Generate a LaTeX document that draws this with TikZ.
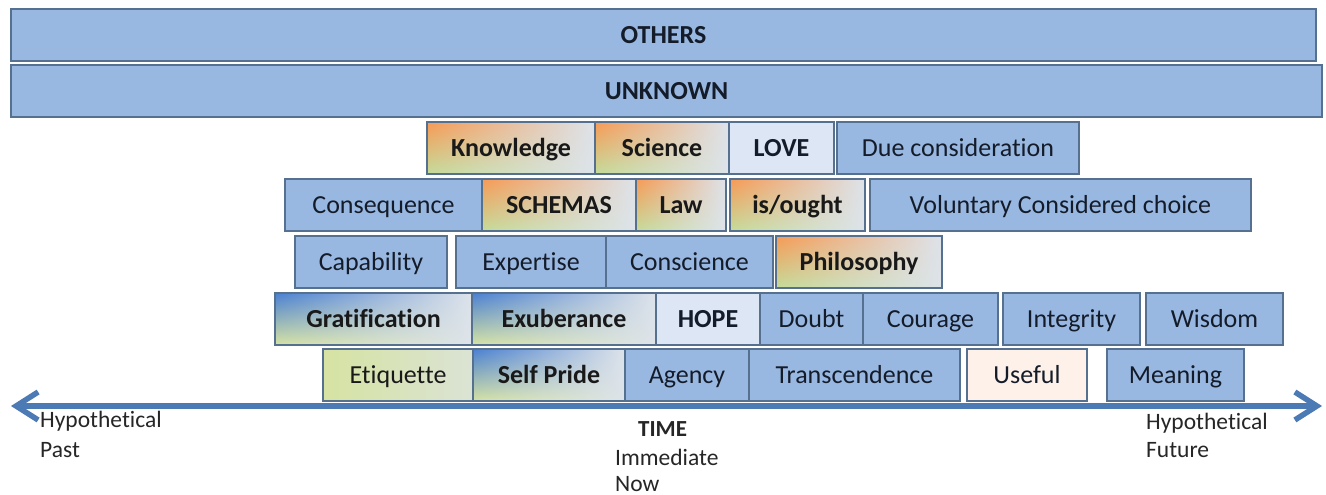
\documentclass[tikz,border=0pt]{standalone}
\usepackage{fontspec}
\setmainfont[Ligatures=NoCommon]{Carlito}
\usetikzlibrary{arrows.meta,shadings}
\definecolor{bluefill}{HTML}{99B8E1}
\definecolor{bordercol}{HTML}{56708F}
\definecolor{textcol}{HTML}{141C2A}
\definecolor{palefill}{HTML}{DCE6F4}
\definecolor{usefulfill}{HTML}{FDF1E9}
\definecolor{orng}{HTML}{F79A55}
\definecolor{grn}{HTML}{C4DC9A}
\definecolor{lgray}{HTML}{DDE3EA}
\definecolor{dblue}{HTML}{4A80D2}
\definecolor{ygrn}{HTML}{D6E3A2}
\definecolor{axiscol}{HTML}{4C7AB4}
\definecolor{lblcol}{HTML}{262626}
\newcommand\mybx[7]{%
  \pgfmathsetmacro\mybxw{#4-#2}\pgfmathsetmacro\mybxh{#5-#3}%
  \node[#6, minimum width=\mybxw pt, minimum height=\mybxh pt] (#1) at ({(#2+#4)/2},{(#3+#5)/2}) {#7};}
\tikzset{
  box/.style={draw=bordercol, line width=1.3pt, text=textcol, inner sep=0pt,
    font=\fontsize{26}{30}\selectfont, text height=17pt, text depth=0pt},
  boxb/.style={box, font=\fontsize{26}{30}\selectfont\bfseries},
  plain/.style={box, fill=bluefill},
  plainb/.style={boxb, fill=bluefill},
  pale/.style={boxb, fill=palefill},
  usefulbox/.style={box, fill=usefulfill},
  orangegrad/.style={boxb, text=black!90, shade, upper left=orng, lower left=grn, upper right=lgray, lower right=lgray},
  bluegrad/.style={boxb, text=black!90, shade, upper left=dblue, lower left=ygrn, upper right=lgray, lower right=lgray},
  etiq/.style={box, text=black!90, shade, upper left=ygrn, lower left=ygrn, upper right=lgray!70!ygrn, lower right=lgray!70!ygrn},
  lbl/.style={text=lblcol, inner sep=0pt, anchor=base west, font=\fontsize{23.5}{28}\selectfont},
  lblb/.style={lbl, font=\fontsize{23}{28}\selectfont\bfseries},
  axis/.style={draw=axiscol, line width=5.5pt},
}
\begin{document}
\begin{tikzpicture}[x=1pt,y=-1pt]
\useasboundingbox (0,0) rectangle (1326,495);
\fill[white] (0,0) rectangle (1326,495);
% top bars
\mybx{others}{11}{9}{1316}{61}{plainb}{OTHERS}
\mybx{unknown}{11}{65}{1322}{117}{plainb}{UNKNOWN}
% row 1
\mybx{knowledge}{427}{122}{595}{174}{orangegrad}{Knowledge}
\mybx{science}{595}{122}{729}{174}{orangegrad}{Science}
\mybx{love}{729}{122}{834}{174}{pale}{LOVE}
\mybx{due}{837}{122}{1079}{174}{plain}{Due consideration}
% row 2
\mybx{consequence}{285}{179}{482}{231}{plain}{Consequence}
\mybx{schemas}{482}{179}{636}{231}{orangegrad}{SCHEMAS}
\mybx{law}{636}{179}{726}{231}{orangegrad}{Law}
\mybx{isought}{730}{179}{865}{231}{orangegrad}{is/ought}
\mybx{voluntary}{870}{179}{1251}{231}{plain}{Voluntary Considered choice}
% row 3
\mybx{capability}{295}{236}{447}{288}{plain}{Capability}
\mybx{expertise}{456}{236}{606}{288}{plain}{Expertise}
\mybx{conscience}{606}{236}{773}{288}{plain}{Conscience}
\mybx{philosophy}{776}{236}{942}{288}{orangegrad}{Philosophy}
% row 4
\mybx{gratification}{275}{293}{472}{345}{bluegrad}{Gratification}
\mybx{exuberance}{472}{293}{656}{345}{bluegrad}{Exuberance}
\mybx{hope}{656}{293}{760}{345}{pale}{HOPE}
\mybx{doubt}{760}{293}{863}{345}{plain}{Doubt}
\mybx{courage}{863}{293}{998}{345}{plain}{Courage}
\mybx{integrity}{1003}{293}{1140}{345}{plain}{Integrity}
\mybx{wisdom}{1146}{293}{1283}{345}{plain}{Wisdom}
% row 5
\mybx{etiquette}{323}{349}{473}{401}{etiq}{Etiquette}
\mybx{selfpride}{473}{349}{625}{401}{bluegrad}{Self Pride}
\mybx{agency}{625}{349}{749}{401}{plain}{Agency}
\mybx{transcendence}{749}{349}{960}{401}{plain}{Transcendence}
\mybx{useful}{967}{349}{1087}{401}{usefulbox}{Useful}
\mybx{meaning}{1107}{349}{1244}{401}{plain}{Meaning}
% time axis
\coordinate (past) at (11,406);
\coordinate (future) at (1322,406);
\draw[axis, {Straight Barb[length=22pt,width=28pt]}-{Straight Barb[length=22pt,width=28pt]}] (past) -- (future);
% labels
\node[lbl] (hyp1) at (40,427) {Hypothetical};
\node[lbl] (pastlbl) at (40,457) {Past};
\node[lblb] (time) at (638,436) {TIME};
\node[lbl] (immediate) at (615,465) {Immediate};
\node[lbl] (now) at (615,491) {Now};
\node[lbl] (hyp2) at (1146,429) {Hypothetical};
\node[lbl] (futurelbl) at (1146,457) {Future};
\end{tikzpicture}
\end{document}
